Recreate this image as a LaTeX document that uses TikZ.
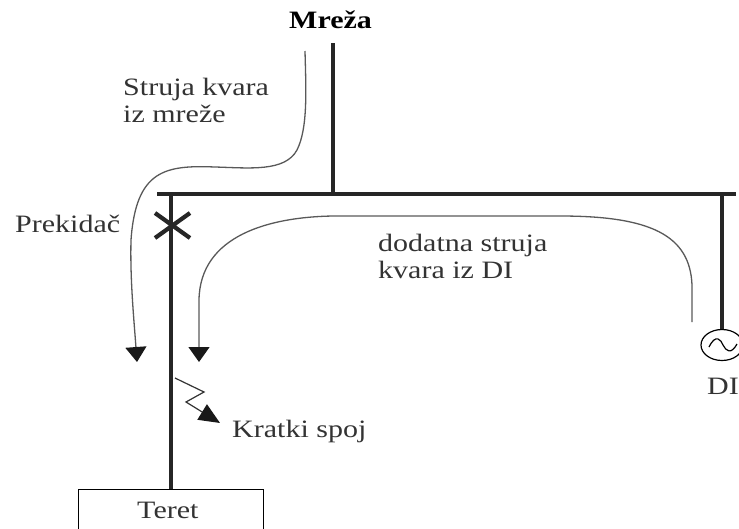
\documentclass[tikz,border=0pt]{standalone}
\usepackage{fontspec}
\setmainfont{Liberation Serif}
\usetikzlibrary{arrows.meta, shapes.geometric}
\tikzset{
  wire/.style = {line width = 4.2pt, black!85},
  current/.style = {line width = 1.3pt, black!65, -{Triangle[length = 15pt, width = 21pt, black!90]}},
  lbl/.style = {inner sep = 0pt, anchor = west, align = left, xscale = 1.2, font = \fontsize{25}{27}\selectfont, black!80}
}
\begin{document}
\begin{tikzpicture}[x = 1pt, y = -1pt]
    \useasboundingbox (0,0) rectangle (739,528);
    \clip (0,0) rectangle (739,528);
    \coordinate (mainTop) at (333,43);
    \coordinate (mainJoin) at (333,194);
    \coordinate (busLeft) at (157,194);
    \coordinate (busRight) at (736,194);
    \coordinate (feedTop) at (171,194);
    \coordinate (diTop) at (722,194);
    % sources and load
    \node [draw, line width = 1.2pt, minimum width = 185pt, minimum height = 80pt, anchor = north, inner sep = 0pt] (load) at (171,489) {};
    \node [draw, line width = 1.2pt, ellipse, minimum width = 42pt, minimum height = 31pt, inner sep = 0pt] (gen) at (722,345) {};
    \draw [wire] (mainTop) -- (mainJoin);
    \draw [wire] (busLeft) -- (busRight);
    \draw [wire] (feedTop) -- (load.north -| feedTop);
    \draw [line width = 3.4pt, black!85] (diTop) -- (gen.north);
    % breaker
    \draw [line width = 4.2pt, black!85] (155,213) -- (190,238) (155,238) -- (190,213);
    % generator symbol
    \draw [line width = 1.2pt] (709,347) .. controls (716,333) and (721,340) .. (723,345) .. controls (726,351) and (731,355) .. (737,344);
    % currents
    \draw [current] (305,51) .. controls (306,90) and (308,128) .. (297,150) .. controls (285,172) and (250,168) .. (215,167) .. controls (165,165) and (136,170) .. (131,240) .. controls (130,280) and (134,320) .. (137,362);
    \draw [current] (692,322) -- (692,285) .. controls (690,235) and (650,216) .. (560,216) -- (333,216) .. controls (270,217) and (200,235) .. (199,300) -- (199,362);
    % fault
    \draw [line width = 1.2pt, black!80, -{Triangle[length = 21pt, width = 18pt, black!90]}] (175,378) -- (204,392) -- (186,402) -- (220,423);
    % labels
    \node [lbl, font = \fontsize{25}{27}\selectfont\bfseries, text = black] (gridLbl) at (289,20) {Mreža};
    \node [lbl] (gridCur) at (123,100) {Struja kvara\\iz mreže};
    \node [lbl] (brkLbl) at (15,224) {Prekidač};
    \node [lbl] (diCur) at (378,256) {dodatna struja\\kvara iz DI};
    \node [lbl] (diLbl) at (707,386) {DI};
    \node [lbl] (faultLbl) at (232,431) {Kratki spoj};
    \node [lbl] (loadLbl) at (137,510) {Teret};
  \end{tikzpicture}
\end{document}
